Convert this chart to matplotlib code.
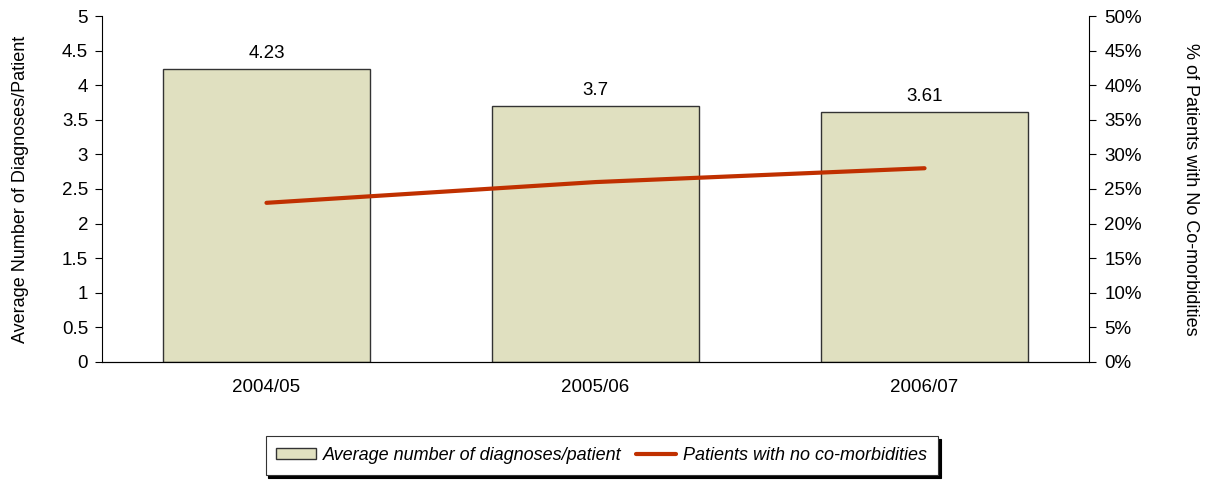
import matplotlib
matplotlib.use('Agg')
import matplotlib.pyplot as plt
from matplotlib.ticker import PercentFormatter

years = ['2004/05', '2005/06', '2006/07']
avg_diagnoses = [4.23, 3.7, 3.61]
pct_no_comorbid = [23.0, 26.0, 28.0]

plt.rcParams['font.family'] = ['Liberation Sans', 'DejaVu Sans']
plt.rcParams['font.size'] = 13.5

fig = plt.figure(figsize=(12.11, 4.82), dpi=100)
ax = fig.add_axes([0.0842, 0.249, 0.8151, 0.7178])
x = range(len(years))

bars = ax.bar(x, avg_diagnoses, width=0.63, color='#E0E0C0', edgecolor='#333333',
              linewidth=1, label='Average number of diagnoses/patient', zorder=2)
# value labels above each bar
for b, v in zip(bars, avg_diagnoses):
    ax.annotate(f"{v:g}", (b.get_x() + b.get_width() / 2, v), xytext=(0, 5),
                textcoords='offset points', ha='center', va='bottom', fontsize=13.5)

ax.set_xlim(-0.5, 2.5)
ax.set_ylim(0, 5)
ax.set_yticks([0, 0.5, 1, 1.5, 2, 2.5, 3, 3.5, 4, 4.5, 5])
ax.set_yticklabels(['0', '0.5', '1', '1.5', '2', '2.5', '3', '3.5', '4', '4.5', '5'])
ax.set_xticks(list(x))
ax.set_xticklabels(years)
ax.tick_params(axis='x', length=0, pad=12)
ax.tick_params(axis='y', length=5, direction='out', pad=5)
ax.set_ylabel('Average Number of Diagnoses/Patient', fontsize=13)
ax.yaxis.set_label_coords(-0.074, 0.5)
ax.spines['top'].set_visible(False)
ax.spines['right'].set_visible(False)

ax2 = ax.twinx()
line, = ax2.plot(x, pct_no_comorbid, color='#C03000', linewidth=3,
                 solid_capstyle='round', label='Patients with no co-morbidities', zorder=3)
ax2.set_ylim(0, 50)
ax2.set_yticks(range(0, 51, 5))
ax2.yaxis.set_major_formatter(PercentFormatter(decimals=0))
ax2.tick_params(axis='y', length=5, direction='out', pad=6)
ax2.set_ylabel('% of Patients with No Co-morbidities', rotation=270, fontsize=13)
ax2.yaxis.set_label_coords(1.111, 0.5)
ax2.spines['top'].set_visible(False)
ax2.spines['left'].set_visible(False)

leg = fig.legend([bars, line], [bars.get_label(), line.get_label()],
                 loc='center', bbox_to_anchor=(0.497, 0.055), ncol=2,
                 frameon=True, fancybox=False,
                 shadow={'color': 'black', 'alpha': 1},
                 prop={'style': 'italic', 'size': 13},
                 handlelength=2.2, handleheight=0.6, columnspacing=0.8,
                 handletextpad=0.4, borderpad=0.6, borderaxespad=0)
leg.get_frame().set_edgecolor('#333333')
leg.get_frame().set_linewidth(0.8)

fig.savefig('out.png', dpi=100)
